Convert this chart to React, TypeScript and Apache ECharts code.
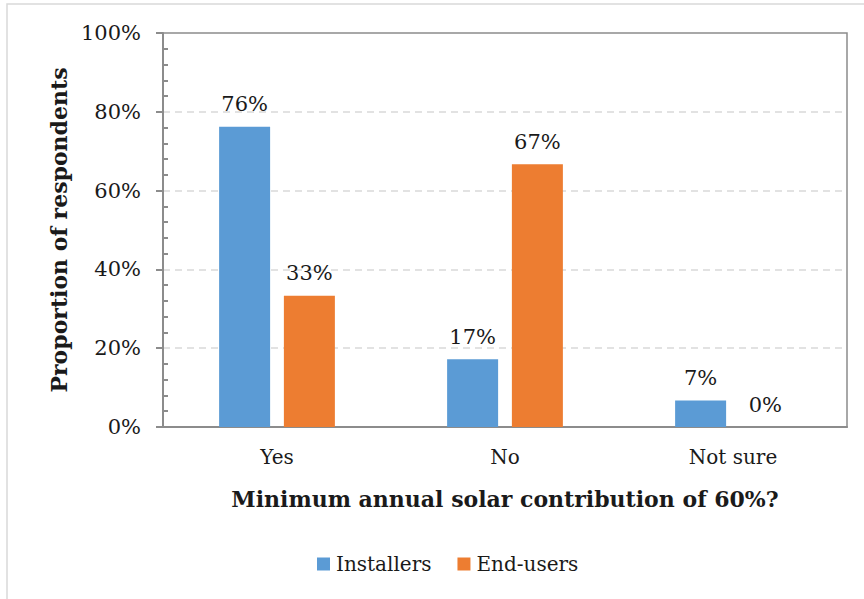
import React, { useEffect, useRef } from "react";
import * as echarts from "echarts";

const categories = ["Yes", "No", "Not sure"];
const installers = [76.2, 17.2, 6.7];
const endUsers = [33.3, 66.7, 0];
const yTicks = [0, 20, 40, 60, 80, 100];
const minorTicks = [4, 8, 12, 16, 24, 28, 32, 36, 44, 48, 52, 56, 64, 68, 72, 76, 84, 88, 92, 96];

const FONT = "DejaVu Serif";

export default function App() {
  const ref = useRef<HTMLDivElement>(null);
  useEffect(() => {
    document.body.style.margin = "0";
    const chart = echarts.init(ref.current!, null, { renderer: "svg" });
    const labelStyle = {
      show: true,
      position: "top" as const,
      distance: 12,
      fontFamily: FONT,
      fontSize: 21,
      color: "#1a1a1a",
      formatter: (p: any) => `${Math.round(p.value)}%`,
    };
    chart.setOption({
      animation: false,
      backgroundColor: "#ffffff",
      graphic: [
        {
          type: "rect",
          shape: { x: 7, y: 4, width: 900, height: 700 },
          style: { fill: "none", stroke: "#d9d9d9", lineWidth: 1.5 },
          silent: true,
          z: -10,
        },
      ],
      grid: {
        left: 163,
        top: 33,
        right: 17,
        bottom: 172,
        show: true,
        borderColor: "#8c8c8c",
        borderWidth: 1.5,
        containLabel: false,
      },
      legend: {
        bottom: 20,
        left: 312,
        itemWidth: 13,
        itemHeight: 13,
        itemGap: 26,
        icon: "rect",
        textStyle: { fontFamily: FONT, fontSize: 20, color: "#1a1a1a", padding: [0, 0, 0, 1] },
        data: ["Installers", "End-users"],
      },
      xAxis: {
        type: "category",
        data: categories,
        name: "Minimum annual solar contribution of 60%?",
        nameLocation: "middle",
        nameGap: 61,
        nameTextStyle: { fontFamily: FONT, fontSize: 22, fontWeight: "bold", color: "#1a1a1a" },
        axisLine: { lineStyle: { color: "#8c8c8c", width: 2 } },
        axisTick: { show: false },
        axisLabel: { fontFamily: FONT, fontSize: 20, color: "#1a1a1a", margin: 20 },
      },
      yAxis: [
        {
          type: "value",
          min: 0,
          max: 100,
          interval: 20,
          name: "Proportion of respondents",
          nameLocation: "middle",
          nameGap: 90,
          nameTextStyle: { fontFamily: FONT, fontSize: 22, fontWeight: "bold", color: "#1a1a1a" },
          axisLine: { show: true, lineStyle: { color: "#8c8c8c", width: 2 } },
          axisTick: { show: true, length: 7, lineStyle: { color: "#8c8c8c", width: 2 } },
          axisLabel: {
            fontFamily: FONT,
            fontSize: 21,
            color: "#1a1a1a",
            margin: 22,
            formatter: (v: number) => (yTicks.includes(v) ? `${v}%` : ""),
          },
          splitLine: {
            show: true,
            showMinLine: false,
            showMaxLine: false,
            lineStyle: { color: "#d9d9d9", width: 1.5, type: [7, 5] },
          },
        },
        {
          type: "value",
          min: 0,
          max: 100,
          position: "left",
          axisLine: { show: false },
          axisLabel: { show: false },
          splitLine: { show: false },
          axisTick: {
            show: true,
            inside: true,
            length: 5,
            customValues: minorTicks,
            lineStyle: { color: "#8c8c8c", width: 2 },
          },
        },
      ],
      series: [
        {
          name: "Installers",
          type: "bar",
          data: installers,
          barWidth: 51,
          barGap: "27%",
          itemStyle: { color: "#5b9bd5" },
          label: labelStyle,
        },
        {
          name: "End-users",
          type: "bar",
          data: endUsers,
          barWidth: 51,
          barGap: "27%",
          itemStyle: { color: "#ed7d31" },
          label: labelStyle,
        },
      ],
    });
    return () => chart.dispose();
  }, []);
  return <div ref={ref} style={{ width: 864, height: 599 }} />;
}
